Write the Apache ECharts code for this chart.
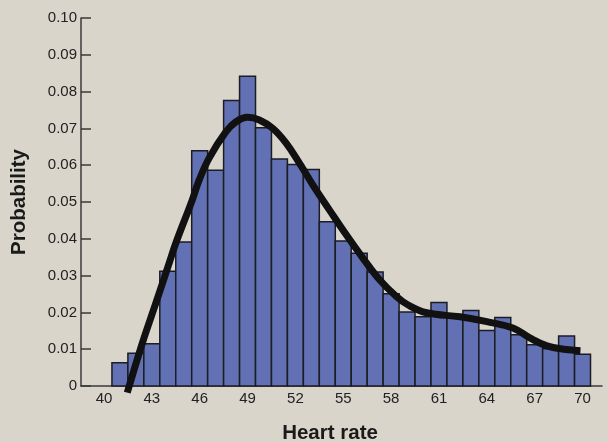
<!DOCTYPE html>
<html>
<head>
<meta charset="utf-8">
<script src="https://cdn.jsdelivr.net/npm/echarts@6/dist/echarts.min.js"></script>
<style>
html,body{margin:0;padding:0;background:#d9d5cb;}
#chart{width:608px;height:442px;}
</style>
</head>
<body>
<div id="chart"></div>
<script>
// Histogram bins (heart rate) and probabilities
const heartRates = [41,42,43,44,45,46,47,48,49,50,51,52,53,54,55,56,57,58,59,60,61,62,63,64,65,66,67,68,69,70];
const probabilities = [0.0063,0.0089,0.0115,0.0312,0.0391,0.0639,0.0586,0.0776,0.0842,0.0702,
  0.0617,0.0602,0.0588,0.0446,0.0394,0.0361,0.0310,0.0251,0.0201,0.0188,
  0.0227,0.0185,0.0205,0.0151,0.0186,0.0139,0.0112,0.0101,0.0136,0.0086];
// Fitted density curve
const curveX = [41.46,42.4,43.25,44.08,44.5,45.53,45.97,46.6,47.65,48.28,49.0,49.74,50.58,51.42,52.26,53.1,54.14,55.2,56.24,57.29,58.34,59.07,60.23,62.32,64.0,65.67,66.72,67.77,68.82,69.87];
const curveY = [-0.0018,0.0116,0.0225,0.0333,0.0388,0.0505,0.0560,0.0620,0.0691,0.0718,0.0730,0.0723,0.0700,0.0660,0.0605,0.0546,0.0478,0.0410,0.0347,0.0288,0.0243,0.0220,0.0199,0.0188,0.0175,0.0157,0.0130,0.0109,0.0100,0.0096];
const xTickLabels = [40,43,46,49,52,55,58,61,64,67,70];

const barData = heartRates.map((h,i)=>[h, probabilities[i]]);
const curveData = curveX.map((x,i)=>[x, curveY[i]]);

const chart = echarts.init(document.getElementById('chart'), null, {renderer:'canvas'});
const font = "'Liberation Sans', Arial, Helvetica, sans-serif";
chart.setOption({
  backgroundColor: '#d9d5cb',
  animation: false,
  grid: {left: 81, top: 18, width: 521, height: 368, containLabel: false, outerBoundsMode: 'none'},
  xAxis: {
    type: 'value', min: 38.56, max: 71.22,
    name: 'Heart rate', nameLocation: 'middle', nameGap: 37,
    nameTextStyle: {fontFamily: font, fontWeight: 'bold', fontSize: 20.5, color: '#1a1a1a', padding: [0, 23, 0, 0]},
    axisLine: {show: true, lineStyle: {color: '#3a3a3a', width: 1.5}},
    axisTick: {show: false},
    splitLine: {show: false},
    axisLabel: {customValues: xTickLabels, fontFamily: font, fontSize: 15, color: '#222', margin: 5}
  },
  yAxis: {
    type: 'value', min: 0, max: 0.1, interval: 0.01,
    name: 'Probability', nameLocation: 'middle', nameGap: 51,
    nameTextStyle: {fontFamily: font, fontWeight: 'bold', fontSize: 20.5, color: '#1a1a1a'},
    axisLine: {show: true, lineStyle: {color: '#3a3a3a', width: 1.5}},
    axisTick: {show: true, inside: true, length: 10, lineStyle: {color: '#3a3a3a', width: 1.5}},
    splitLine: {show: false},
    axisLabel: {fontFamily: font, fontSize: 15, color: '#222', margin: 4,
      formatter: v => v === 0 ? '0' : v.toFixed(2)}
  },
  series: [
    {
      type: 'custom',
      data: barData,
      clip: false,
      renderItem: function(params, api){
        const x = api.value(0), y = api.value(1);
        const p1 = api.coord([x-0.5, y]);
        const p2 = api.coord([x+0.5, 0]);
        return {
          type: 'rect',
          shape: {x: p1[0], y: p1[1], width: p2[0]-p1[0], height: p2[1]-p1[1]},
          style: {fill: '#6271b4', stroke: '#1c1c24', lineWidth: 1.5}
        };
      },
      z: 2
    },
    {
      type: 'line',
      data: curveData,
      smooth: 0.4,
      showSymbol: false,
      clip: false,
      lineStyle: {color: '#111', width: 7, cap: 'butt'},
      z: 3
    }
  ]
});
</script>
</body>
</html>
